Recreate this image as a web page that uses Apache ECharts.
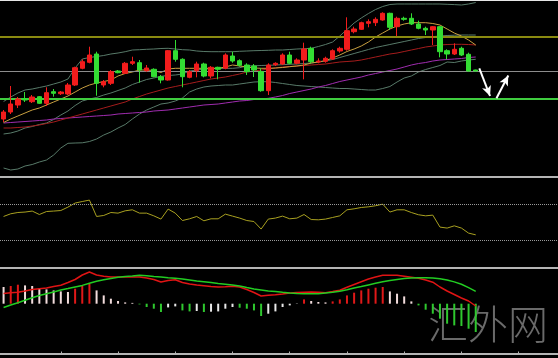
<!DOCTYPE html>
<html><head><meta charset="utf-8">
<script src="https://cdn.jsdelivr.net/npm/echarts@6/dist/echarts.min.js"></script>
<style>html,body{margin:0;padding:0;background:#000;overflow:hidden}#c{width:558px;height:358px}</style>
</head><body><div id="c"></div>
<script>
// slots on the time axis (67 bars + empty space on the right)
const categories = Array.from({length: 78}, (_, i) => 'B' + (i + 1));

// candles: [open, close, low, high]
const candles = [
[81,88,78,90],[88,96,86,114],[95,101,92,103],[101.3,100,98,108],[98.3,103,97,105],
[103.3,96.7,96,104],[96.7,107.3,94,112.7],[108.3,106.7,103.3,111],[106.3,108,105,109],[106,115,105,117],
[115,132.3,114,133.3],[131.7,138.3,130.7,140.7],[137.7,145,136.7,153.3],[146,116.7,104.3,148.3],[115,118.3,112.7,120],
[116.7,128.3,115,130],[129,127.3,126.7,130],[126.7,136.7,126,138],[136.7,138.3,135,143.3],[137.3,130,117.3,140],
[129.3,132,128.3,135],[130.7,123.3,122.7,131.7],[123.3,120,116.7,125],[120,149.3,119.3,150],[149.3,140.7,138.3,160],
[140.7,123.3,112.7,141.7],[122.7,128.3,121.7,130],[129.3,136,122.7,138.3],[136,124,122.7,137.3],[124,132.7,121.7,134],
[132.7,130.7,120.7,133.3],[131.7,145,130.7,146.7],[144,139,137.3,148.3],[139.3,134.7,133.3,140.7],[135,128.3,125,136.7],
[134,130,123,136],[128.3,109.3,108.3,131.7],[109.3,135,105,136.7],[135.3,136.7,134,137.7],[136,145,135,146.7],
[145,136.7,135.7,148.3],[136.7,140,135.7,141.7],[140,151,120.7,157.3],[151.7,138.3,136.7,153.3],[138,139,136.7,141.7],
[138.7,141.7,137.3,143.3],[141,149.3,140,150.7],[149,151.7,147.3,153.3],[150.7,169.3,149.3,182.7],[168.3,171,166.7,173.3],
[170.7,177.3,170,178.3],[176.7,178.3,172.7,180.7],[177.3,180.7,174,182.7],[180,186.7,179.3,187.7],[186.7,172.7,170,187.3],
[173.3,181.7,164,183.3],[181.7,180.7,179.3,183.3],[181.7,176,175,186.7],[176,171.7,170.7,179.3],[171.7,170,165,173.3],
[170,173.3,155,174],[173.3,148.3,142.7,174],[149.3,146,140.7,150.7],[146,150.7,145,156.7],[151.7,145,144,153.3],
[145.7,129,128.3,147.3],[130,129,128.7,130.3]
];

const bollUpper = [98.5,103,107,110,111,112.5,114,116,118,121,132,141,142.5,143.5,144.5,146,147,148.3,150,150.3,
150.7,151,151.5,151.7,151,150.3,150,149,148.5,148.3,148.3,148.3,148.3,148.7,149,149.3,149.5,149.7,150,150,
150.5,151,151.3,151.7,153.5,155.5,158,164,170.5,177,182,186.5,190.5,193.5,195.5,196,196,196,196,196,
196,196,195.7,195.4,195,196,197.5];
const bollMid = [66,67,69,72,73.5,75.5,77,80.5,85,89,94.5,99,101,102.5,105,107,109.5,112,115.5,118,
120.5,122,123.7,124.5,125,126,129,130,131,131.3,131.5,131.7,131.7,132.3,134,134.2,134.5,134.7,135,135.3,
135.7,136,136.5,137,138,139,140.5,142.5,144.5,146.5,148.5,150.5,152.5,154,155.5,157,158.5,160,161.5,162.5,
163.3,164,164.5,164.8,165,165,165];
const bollLower = [32,30,31,34,35.5,38,40,45,52,56.7,57,57.2,58.5,61,65,68,72,75.5,81,86,
90,93,96,97,99,102,108,111,113,114,114.5,115,115,116,117,118,118.3,118.3,117.5,116.5,
115.5,114.5,114,113.5,113,112.5,112,111.5,111.5,111,110.5,110,110,111.5,113.5,118,122,124,128,130.5,
132.5,134.5,138,137.5,139,140,140.7];
const maFast = [77.5,81,84,87,90,92,95,98,101,104,108,112,115,117,118.5,120,124,126.5,128,130,
130,129.5,127.5,131,131.7,131.7,131.7,131.7,131.7,131.7,131.7,133,135,134,133,132,131.7,131.7,132,132.5,
133.3,134,135,137,138,139.5,142,145,148.5,151,154,158,163,167,171,174,176,177.3,177.3,177.3,
176.5,175,171,167,164,160,155];
const maMid = [72,72,72.5,73,74,75,76.5,78,80,82,84,86,88,90,92,94,96,98,101,103.5,
106,108,110,112,113.5,115,116.5,118,119.5,121,122,123,124.5,126,128,129,130,131,132,133,
133.5,134,134.5,135,135.5,136,137,138,138.5,139,140,141.5,143,144.5,146,147,148.5,150,151.5,153,
154,155,155.5,155.7,155.7,155.5,155];
const maSlow = [77,77.5,78,78.5,79,79.5,80,81,81.5,82,82.5,83,83.5,84,84.5,85,86,86.5,87,87.5,
88,89,89.5,90,91,92,93,94,95,95.5,96,97,98,99,99.5,100.5,101,101.7,103,104.5,
106.5,108,109.5,111,113,114.5,116.5,118.5,120,121.5,123,125,126.5,128,129.5,131,133,135,136.5,137.5,
139,140,140.5,141,141.5,142.5,143];
const priceLevels = [163.3, 129, 101.3];
// arrow annotations: [x0, y0, x1, y1] in (slot, price) units
const arrows = [[66.5,131.7,68.0,104],[68.9,101.7,70.55,124.5]];

const rsi = [56.7,59.7,61.1,61.6,62.7,58.9,62.2,62.7,63.3,67.1,71.6,73.3,74.9,56.7,57.8,61.1,60.4,63,64.1,60.4,
60.4,57.4,53.8,64.9,60.4,52.2,54.1,56.7,51.9,54.1,54.1,59.3,57.1,54.9,52.2,51.1,42.7,53.8,54.9,57.1,
54.1,54.9,58.9,53.3,53,53.8,55.6,57.4,64.1,65.2,66.7,67.4,68.6,70.4,61.6,64.1,64.1,61.1,58.6,57.4,
58.2,44.9,43.8,46.3,43.8,38.2,36.3];
const rsiLevels = [70, 30];

const macdHist = [16.7,17.7,19,18.3,17.7,15,14.3,13.3,12.3,11.7,15,17.7,20,13.3,8.3,5,2.7,1.3,0.8,-0.7,
-3.3,-5,-8.3,-3.7,-2.7,-6.7,-7.7,-7.3,-8.3,-8,-7.7,-5,-3.3,-4,-5,-6.7,-12.3,-10,-7.7,-3.3,
-1.7,-0.3,4.3,2.7,1.7,1.3,2.3,4.3,8.3,11,13.3,15,16,16.7,12.3,10,7.3,2.3,-1.7,-6,
-10,-15,-20,-21.7,-22.3,-25,-28.3];
const macdMain = [10.2,11,11.5,12.7,14.2,15,15.7,17.2,18.5,21.2,24.2,28.7,31.7,28.7,27.4,26.7,26.7,26.7,26.7,26.7,
25.7,24.2,21.7,23.2,24,21.2,19.7,18.7,18,17.2,16.7,17,17.4,16.7,14.2,11.2,7.7,8.4,9,9.7,
10.7,11.2,11.5,11.7,11.4,11,12.2,13.5,16.4,19.2,22,24.7,26.7,28.4,28.4,28.4,27.4,26.4,25.4,23.7,
21.5,16.7,12.7,9.2,5.7,2.7,-2.3];
const macdSignal = [-3.8,-1.3,1,3.4,5.9,8.2,10,11.8,13.6,15.1,16.7,18.3,20.4,22.5,24,25.2,26.4,27.2,27.7,28.4,
27.9,27.2,26.6,25.9,25.4,24.7,23.7,22.7,21.9,21.1,20.2,19.4,18.6,17.7,16.2,14.8,13.8,12.8,12.1,11.4,
10.8,10.3,10,10,10,10.7,11.4,12.4,13.9,15.7,17.1,18.8,20.4,22,23.2,24.2,25.2,25.6,26,25.9,
25.8,25,23.7,21.8,19.5,16.1,12.4];

const chart = echarts.init(document.getElementById('c'), null, {renderer: 'canvas'});
const sepLine = {show: true, onZero: false, lineStyle: {color: '#b4b4b4', width: 2}};
const catAxis = (g, extra) => Object.assign({
  type: 'category', gridIndex: g, data: categories, boundaryGap: true,
  axisLabel: {show: false}, axisTick: {show: false}, splitLine: {show: false}, axisLine: sepLine
}, extra || {});
const hiddenY = (g, min, max) => ({type: 'value', gridIndex: g, min: min, max: max, show: false, splitLine: {show: false}});
const lineS = (data, color, z) => ({
  type: 'line', xAxisIndex: 0, yAxisIndex: 0, data: data, symbol: 'none', showSymbol: false,
  lineStyle: {color: color, width: 1}, z: z || 3, silent: true
});

chart.setOption({
  backgroundColor: '#000',
  animation: false,
  grid: [
    {left: 0, right: 0, top: 0, height: 176.5},
    {left: 0, right: 0, top: 177.5, height: 90},
    {left: 0, right: 0, top: 267.5, height: 86}
  ],
  xAxis: [
    catAxis(0),
    catAxis(1),
    catAxis(2, {axisTick: {show: true, inside: true, length: 2, alignWithLabel: true,
      interval: (i) => i > 0 && i % 8 === 0, lineStyle: {color: '#b4b4b4', width: 1}}}),
    {type: 'value', gridIndex: 0, min: -0.5, max: 77.5, show: false, splitLine: {show: false}}
  ],
  yAxis: [hiddenY(0, 23.5, 200), hiddenY(1, 0, 100), hiddenY(2, -49.8, 36.2)],
  graphic: [
    {type: 'rect', left: 0, top: 0, shape: {width: 558, height: 1}, style: {fill: '#e6e6e6'}, z: 100},
    {type: 'text', left: 428, top: 304, z: 1,
     style: {text: '汇外网', font: '300 40px "Noto Sans CJK SC"', fill: 'rgba(125,125,125,0.85)'}}
  ],
  series: [
    lineS(bollUpper, '#587a69'),
    lineS(bollMid, '#587a69'),
    lineS(bollLower, '#587a69'),
    lineS(maSlow, '#a02cb0'),
    lineS(maMid, '#a51c1c'),
    lineS(maFast, '#c9a040'),
    {
      type: 'candlestick', xAxisIndex: 0, yAxisIndex: 0, data: candles, barWidth: 5, z: 5,
      itemStyle: {color: '#f21c1c', color0: '#33dd33', borderColor: '#f21c1c', borderColor0: '#33dd33', borderWidth: 1},
      markLine: {
        silent: true, symbol: 'none', label: {show: false},
        data: [
          {yAxis: priceLevels[0], lineStyle: {color: '#8a8a10', width: 2, type: 'solid'}},
          {yAxis: priceLevels[1], lineStyle: {color: '#8c8c8c', width: 1, type: 'solid'}},
          {yAxis: priceLevels[2], lineStyle: {color: '#3fcc3f', width: 2, type: 'solid'}}
        ]
      }
    },
    {
      type: 'line', xAxisIndex: 3, yAxisIndex: 0, data: [[arrows[0][0], arrows[0][1]]],
      symbol: 'none', lineStyle: {opacity: 0}, z: 6, silent: true,
      markLine: {
        silent: true, symbol: ['none', 'arrow'], symbolSize: [7, 10], label: {show: false},
        lineStyle: {color: '#ffffff', width: 2, type: 'solid'},
        data: arrows.map(a => [{coord: [a[0], a[1]]}, {coord: [a[2], a[3]]}])
      }
    },
    {
      type: 'line', xAxisIndex: 1, yAxisIndex: 1, data: rsi, symbol: 'none',
      lineStyle: {color: '#a8a020', width: 1}, silent: true,
      markLine: {
        silent: true, symbol: 'none', label: {show: false},
        lineStyle: {color: '#9a9a9a', width: 1, type: 'dotted'},
        data: rsiLevels.map(v => ({yAxis: v}))
      }
    },
    {
      type: 'bar', xAxisIndex: 2, yAxisIndex: 2, data: macdHist, barWidth: 2, silent: true, z: 2,
      itemStyle: {
        color: (p) => {
          const v = macdHist[p.dataIndex];
          const prev = p.dataIndex > 0 ? macdHist[p.dataIndex - 1] : v;
          if (v >= 0) return v > prev ? '#e01818' : '#f2dcdc';
          return v < prev ? '#2ec82e' : '#e8e8e8';
        }
      }
    },
    {type: 'line', xAxisIndex: 2, yAxisIndex: 2, data: macdMain, symbol: 'none',
     lineStyle: {color: '#e01414', width: 1.5}, silent: true, z: 3},
    {type: 'line', xAxisIndex: 2, yAxisIndex: 2, data: macdSignal, symbol: 'none',
     lineStyle: {color: '#22cc22', width: 1.5}, silent: true, z: 3}
  ]
});
</script>
</body></html>
